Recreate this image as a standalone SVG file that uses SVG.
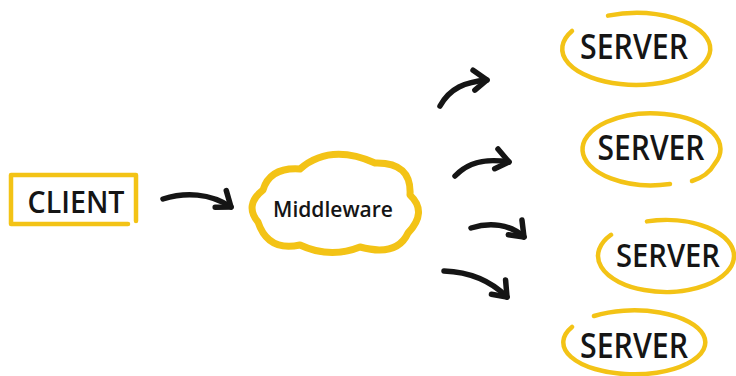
<svg xmlns="http://www.w3.org/2000/svg" width="736" height="376" viewBox="0 0 736 376">
<defs>
<style>
.yl{fill:none;stroke:#F3C316;stroke-linecap:round;stroke-linejoin:round}
.lbl{font-family:"Open Sans","Liberation Sans",sans-serif;font-weight:600;fill:#151515}
.arr{fill:none;stroke:#151515;stroke-width:5.5;stroke-linecap:round;marker-end:url(#head)}
</style>
<marker id="head" markerUnits="userSpaceOnUse" markerWidth="30" markerHeight="30" refX="0" refY="0" orient="auto" overflow="visible">
<path d="M-13,-11 L0,0 L-13,9" fill="none" stroke="#151515" stroke-width="5.5" stroke-linecap="round" stroke-linejoin="round"/>
</marker>
</defs>
<rect width="736" height="376" fill="#ffffff"/>
<g id="client">
<path class="yl" d="M128,224 H11 V175 H136 V221" stroke-width="4.5" stroke-linecap="butt" stroke-linejoin="miter"/>
<text class="lbl" x="76" y="213" font-size="30" text-anchor="middle" textLength="97" lengthAdjust="spacingAndGlyphs">CLIENT</text>
</g>
<g id="middleware">
<path class="yl" stroke-width="7" d="M258,222 Q244,205 263,190 Q270,167 300,169 Q330,143 375,163 Q412,162 410,195 Q428,212 408,233 Q397,257 360,247 Q330,259 300,245 Q268,252 258,222 Z"/>
<text class="lbl" x="333" y="217" font-size="22" text-anchor="middle" textLength="120" lengthAdjust="spacingAndGlyphs">Middleware</text>
</g>
<g id="server1">
<path class="yl" stroke-width="4.5" d="M608,15.6 A74,36 0 1,1 572,31"/>
<text class="lbl" x="634" y="59" font-size="34" text-anchor="middle" textLength="108" lengthAdjust="spacingAndGlyphs">SERVER</text>
</g>
<g id="server2">
<path class="yl" stroke-width="4.5" d="M670,184 A69,36 0 1,1 714.5,164 Q708,176 692,181"/>
<text class="lbl" x="651" y="160" font-size="34" text-anchor="middle" textLength="107" lengthAdjust="spacingAndGlyphs">SERVER</text>
</g>
<g id="server3">
<path class="yl" stroke-width="4.5" d="M647,221.4 A68,36 0 1,1 611,234.8"/>
<text class="lbl" x="668" y="267" font-size="33" text-anchor="middle" textLength="104" lengthAdjust="spacingAndGlyphs">SERVER</text>
</g>
<g id="server4">
<path class="yl" stroke-width="4.5" d="M594,316 A71,32 0 1,1 572,327"/>
<text class="lbl" x="634" y="358" font-size="34" text-anchor="middle" textLength="108" lengthAdjust="spacingAndGlyphs">SERVER</text>
</g>
<g id="connectors">
<path class="arr" d="M163,199 C185,192 210,193 231,207"/>
<path class="arr" d="M440,106 C450,88 465,82 487,80"/>
<path class="arr" d="M455,176 C468,162 485,158 509,162"/>
<path class="arr" d="M471,228 C490,222 510,224 524,237"/>
<path class="arr" d="M444,271 C470,272 492,282 507,297"/>
</g>
</svg>
